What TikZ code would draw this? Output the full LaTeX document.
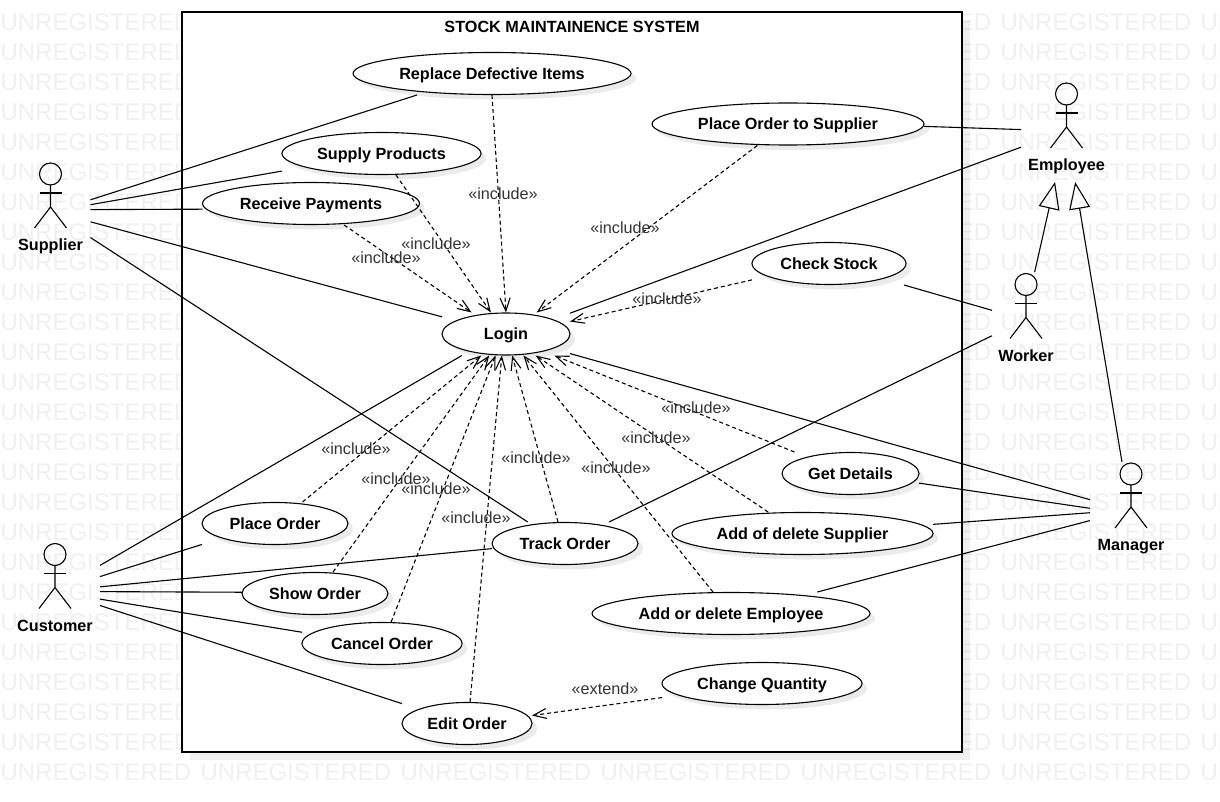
\documentclass[tikz,border=0pt]{standalone}
\usepackage{fontspec}
\setmainfont{Liberation Sans}
\usetikzlibrary{arrows.meta, shadows, shapes.geometric}
\definecolor{wmgrey}{RGB}{240,240,240}
\definecolor{labelgrey}{RGB}{51,51,51}

\begin{document}
\begin{tikzpicture}[x=1pt, y=-1pt, line width=1.1pt,
    >={Straight Barb[length=13pt,width=10pt]},
    softshadow/.style={drop shadow={shadow xshift=5pt, shadow yshift=-5pt, fill=black, opacity=.08}},
    usecase/.style={ellipse, draw, fill=white, softshadow, minimum height=42pt, inner sep=0pt, text height=15pt, text depth=3.5pt, font=\fontsize{16.2}{18}\selectfont\bfseries},
    usebox/.style={minimum height=43pt, inner sep=0pt, outer sep=0pt},
    actorbox/.style={minimum height=80pt, inner sep=0pt, outer sep=0pt},
    actorhead/.style={circle, draw, minimum size=22pt, inner sep=0pt, outer sep=4pt},
    actorname/.style={minimum height=34pt, inner sep=0pt, outer sep=0pt, text height=15pt, text depth=3.5pt, font=\fontsize{16.2}{18}\selectfont\bfseries},
    stereo/.style={text=labelgrey, inner sep=0pt, text height=16pt, text depth=2.5pt, font=\fontsize{16.2}{18}\selectfont},
    dep/.style={->, dash pattern=on 4pt off 3pt},
    isa/.style={-{Triangle[open,length=27pt,width=21pt]}}]
    \clip (0,0) rectangle (1220,802);
    \path[use as bounding box] (0,0) rectangle (1220,802);

    \foreach \col in {0,1,...,6}
        \foreach \row in {0,1,...,25}
            \node[anchor=west, inner sep=0pt, text=wmgrey, font=\fontsize{24}{26}\selectfont] (wm-\col-\row) at (200*\col,22+30*\row) {UNREGISTERED};

    \node[rectangle, draw, fill=white, minimum width=780pt, minimum height=740pt, inner sep=0pt,
        drop shadow={shadow xshift=8pt, shadow yshift=-8pt, fill=black, opacity=.06}] (system) at (572,382) {};
    \node[actorname, minimum height=0pt] (systemtitle) at (572,27) {STOCK MAINTAINENCE SYSTEM};

    \foreach \name/\cx/\cy/\ww/\txt in {
        replace/492/73.5/278/Replace Defective Items,
        placesup/788/124/272/Place Order to Supplier,
        supply/381.5/153.5/199/Supply Products,
        receive/311/203.5/217/Receive Payments,
        check/829/263.5/154/Check Stock,
        login/506/334/128/Login,
        details/850.5/473.5/137/Get Details,
        placeorder/275/523.5/146/Place Order,
        addsup/802.5/533.5/261/Add of delete Supplier,
        track/565/543.5/146/Track Order,
        show/315/593.5/146/Show Order,
        addemp/731/613.5/278/Add or delete Employee,
        cancel/382/643.5/160/Cancel Order,
        change/762/683.5/200/Change Quantity,
        edit/467/723.5/130/Edit Order} {
        \node[usecase, minimum width=\ww pt] (\name) at (\cx,\cy) {\txt};
        \node[usebox, minimum width=\ww pt] (\name box) at (\cx,\cy) {};
    }

    \foreach \name/\hx/\hy/\ww/\txt in {
        supplier/50.5/174/80/Supplier,
        customer/55/554.5/90/Customer,
        employee/1066.5/94/91/Employee,
        worker/1026/284.5/68/Worker,
        manager/1131/474/82/Manager} {
        \node[actorhead] (\name head) at (\hx,\hy) {};
        \node[actorbox, minimum width=\ww pt] (\name) at (\hx,\hy+30) {};
        \node[actorname] (\name text) at (\hx,\hy+71) {\txt};
        \draw (\name head) ++(0,11) -- ++(0,22) -- ++(-16,21) ++(16,-21) -- ++(16,21);
        \draw (\name head) ++(-11,19) -- ++(22,0);
    }

    \foreach \from/\to in {
        supplier.6/replacebox.196.8, supplier.359/supplybox.190, supplier.352/receivebox.183,
        supplier.336/loginbox.165, supplier.320/trackbox.150,
        customer.23/loginbox.206, customer.10/placeorderbox.196, customer.357/trackbox.184,
        customer.351/showbox.179, customer.342/cancelbox.172, customer.335/editbox.163,
        employee.187/placesupbox.359, employee.207/loginbox.18,
        worker.173/checkbox.344, worker.212/trackbox.26,
        manager.174/loginbox.343, manager.186/detailsbox.352,
        manager.192/addsupbox.4, manager.202/addempbox.14}
        \draw (\from) -- (\to);

    \foreach \from/\to in {
        replacebox.270/loginbox.90, placesupbox.215/loginbox.35, supplybox.304/loginbox.125,
        receivebox.327/loginbox.148, checkbox.192/loginbox.11, placeorderbox.38/loginbox.221,
        showbox.50/loginbox.232, cancelbox.67/loginbox.244, editbox.82/loginbox.259,
        trackbox.108/loginbox.286, addempbox.130/loginbox.309, addsupbox.148/loginbox.324,
        detailsbox.159/loginbox.336, changebox.188/editbox.7}
        \draw[dep] (\from) -- (\to);

    \draw[isa] (workerhead.55) -- (employeetext.236);
    \draw[isa] (managerhead.127) -- (employeetext.297);

    \foreach \name/\lx/\ly/\txt in {
        increplace/503/193/«include»,
        incplacesup/625/227/«include»,
        incsupply/436/243/«include»,
        increceive/386/257/«include»,
        inccheck/667/298/«include»,
        incdetails/696/407/«include»,
        incaddsup/656/437/«include»,
        incplaceorder/356/448/«include»,
        inctrack/536/457/«include»,
        incaddemp/616/467/«include»,
        incshow/396/478/«include»,
        inccancel/436/488/«include»,
        incedit/476/517/«include»,
        extchange/605/688/«extend»}
        \node[stereo] (\name) at (\lx,\ly) {\txt};
\end{tikzpicture}
\end{document}
